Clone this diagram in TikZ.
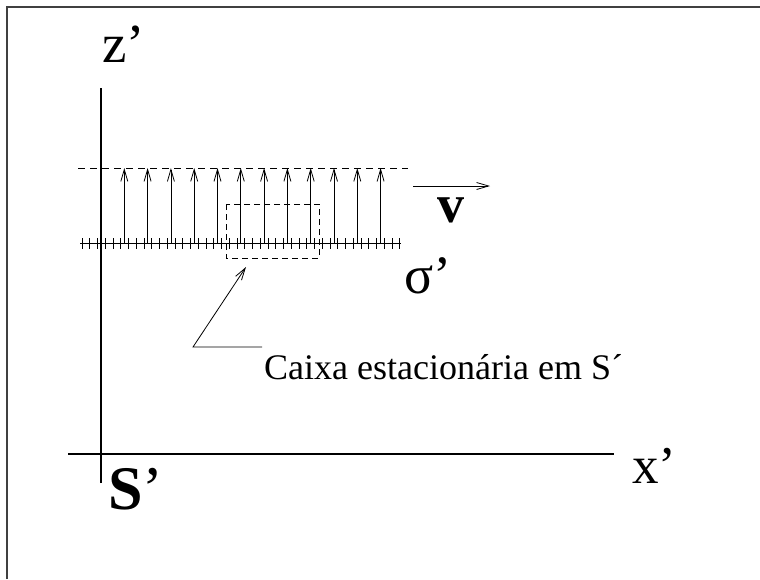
\documentclass[tikz,border=0pt]{standalone}
\usepackage{fontspec}
\setmainfont{Liberation Serif}
\usetikzlibrary{arrows.meta}
\tikzset{
  axis/.style={line width=1.6pt},
  thin/.style={line width=0.8pt},
  dsh/.style={line width=0.8pt, dash pattern=on 7pt off 5pt},
  barb/.style={-{Straight Barb[length=12pt,width=7pt,line width=0.8pt]}},
  lbl/.style={inner sep=0pt, anchor=base west},
}
\begin{document}
\begin{tikzpicture}[x=1pt,y=-1pt]
\useasboundingbox (0,0) rectangle (760,579);
% frame
\draw[line width=1.5pt, black!75] (7,579) -- (7,7) -- (760,7);
% axes
\coordinate (zb) at (101,483);
\coordinate (zt) at (101,88);
\coordinate (xl) at (68,454);
\coordinate (xr) at (614,454);
\draw[axis] (zb) -- (zt);
\draw[axis] (xl) -- (xr);
% labels
\node[lbl] (zlab) at (102,62) {\fontsize{55}{62}\selectfont z’};
\node[lbl] (xlab) at (632,483) {\fontsize{53}{60}\selectfont x’};
\node[lbl] (slab) at (108,509) {\fontsize{62}{70}\selectfont\textbf{S}’};
\node[lbl] (vlab) at (437,222) {\fontsize{54}{60}\selectfont\textbf{v}};
\node[lbl] (siglab) at (404,293) {\fontsize{54}{60}\selectfont σ’};
\node[lbl] (cap) at (264,379) {\fontsize{36}{42}\selectfont Caixa estacionária em S´};
% dashed upper line
\coordinate (dl) at (78,168);
\coordinate (dr) at (408,168);
\draw[dsh] (dl) -- (dr);
% charged plane with + signs
\coordinate (pl) at (80,243);
\coordinate (pr) at (401,243);
\draw[thin] (pl) -- (pr);
\foreach \k in {0,...,41} {
  \draw[thin] ({82+7.75*\k},238) -- ({82+7.75*\k},249);
}
% field arrows
\foreach \k in {0,...,11} {
  \coordinate (a\k) at ({124.3+23.3*\k},243);
  \coordinate (b\k) at ({124.3+23.3*\k},168);
  \draw[thin,barb] (a\k) -- (b\k);
}
% dashed box
\coordinate (box1) at (226,204);
\coordinate (box2) at (319,258);
\draw[line width=0.8pt, dash pattern=on 6pt off 4pt] (box1) rectangle (box2);
% velocity arrow
\coordinate (v1) at (413,186);
\coordinate (v2) at (490,186);
\draw[thin,barb] (v1) -- (v2);
% leader
\coordinate (l1) at (262,347);
\coordinate (l2) at (193,347);
\coordinate (l3) at (246,267);
\draw[thin,barb] (l1) -- (l2) -- (l3);
\end{tikzpicture}
\end{document}
